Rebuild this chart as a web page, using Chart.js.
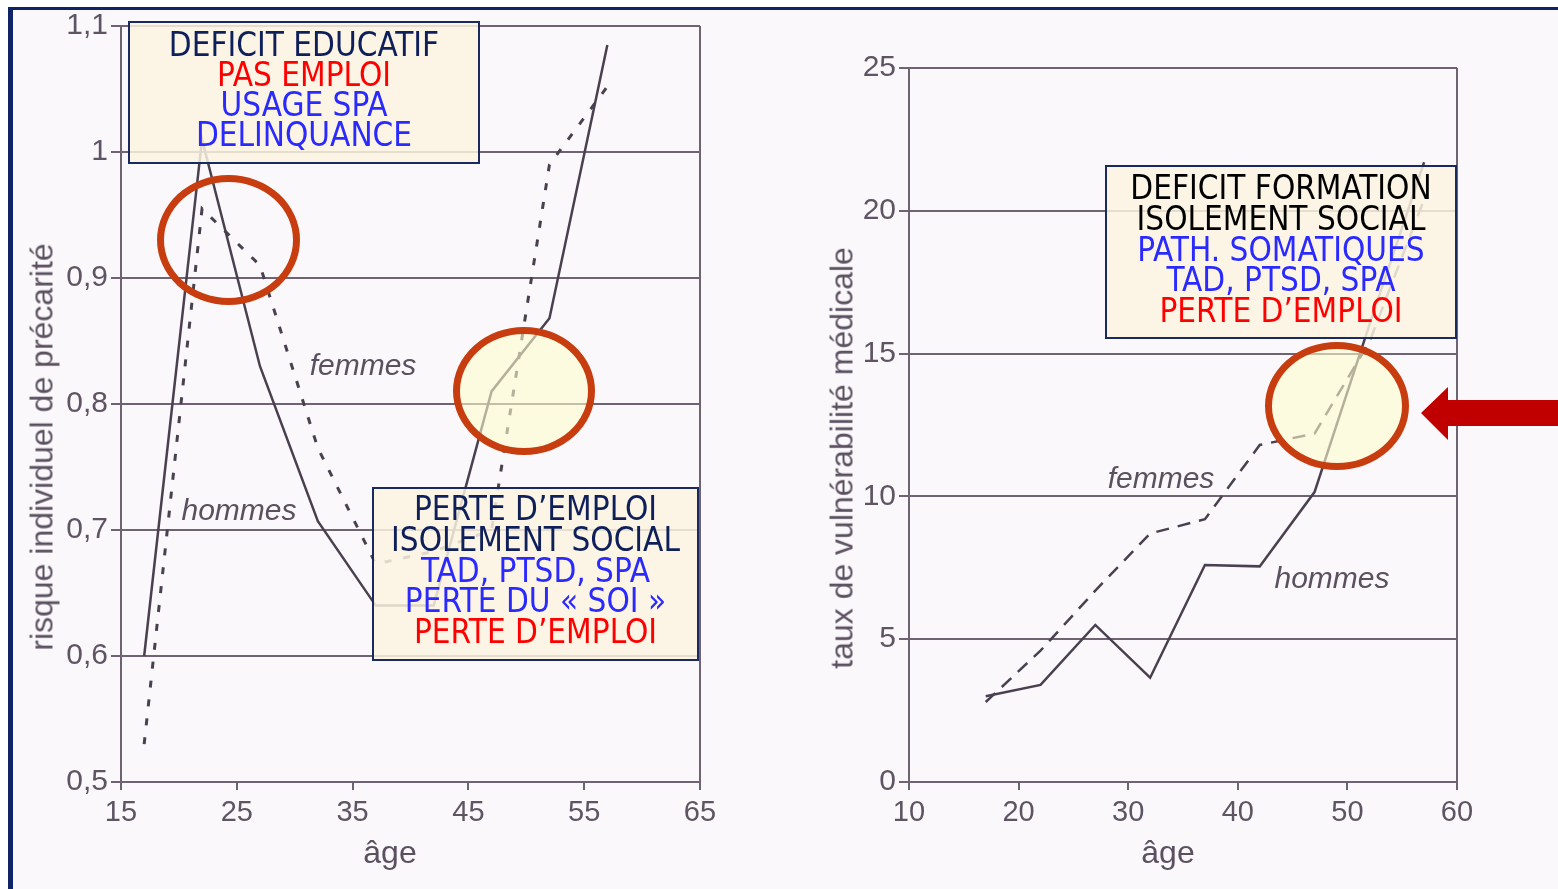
<!DOCTYPE html>
<html><head><meta charset="utf-8">
<script src="https://cdn.jsdelivr.net/npm/chart.js@4/dist/chart.umd.min.js"></script>
<style>
body{margin:0;width:1558px;height:889px;overflow:hidden;background:#fff;position:relative;font-family:"Liberation Sans",Arial,sans-serif}
#paper{position:absolute;left:8px;top:7px;width:1550px;height:882px;background:#fbf8fb;border-left:5px solid #0f2466;border-top:3px solid #0f2466;box-sizing:border-box}
canvas{position:absolute;top:0}
.box{position:absolute;box-sizing:border-box;border:2px solid #1b2a5e;background:rgba(252,244,224,0.84);font-family:"DejaVu Sans Condensed","DejaVu Sans",sans-serif;font-stretch:condensed;font-size:33px;text-align:center;white-space:nowrap}
.ring{position:absolute;box-sizing:border-box;border:7px solid #c73d0f;border-radius:50%}
.lbl{position:absolute;font-style:italic;color:#5a5060;font-size:30px;transform:translate(-50%,-50%);white-space:nowrap}
.tt{position:absolute;color:#5a5060;font-size:32px;white-space:nowrap;transform:translate(-50%,-50%)}
.rot{transform:translate(-50%,-50%) rotate(-90deg)}
.navy{color:#0e1f5a}.red{color:#ff0000}.blue{color:#2a2aff}.blk{color:#000}
</style></head>
<body>
<div id="paper"></div>
<canvas id="left" width="760" height="889" style="left:0"></canvas>
<canvas id="right" width="798" height="889" style="left:760px"></canvas>

<div class="tt rot" style="left:42px;top:447px">risque individuel de précarité</div>
<div class="tt" style="left:390px;top:852px">âge</div>
<div class="tt rot" style="left:842px;top:458px">taux de vulnérabilité médicale</div>
<div class="tt" style="left:1168px;top:852px">âge</div>

<div class="lbl" style="left:363px;top:365px">femmes</div>
<div class="lbl" style="left:239px;top:510px">hommes</div>
<div class="lbl" style="left:1161px;top:478px">femmes</div>
<div class="lbl" style="left:1332px;top:578px">hommes</div>

<div class="ring" style="left:157px;top:175px;width:143px;height:130px"></div>
<div class="ring" style="left:453px;top:327px;width:142px;height:128px;background:rgba(253,251,205,0.6)"></div>
<div class="ring" style="left:1265px;top:342px;width:144px;height:128px;background:rgba(253,251,205,0.6)"></div>

<div class="box" style="left:128px;top:21px;width:352px;height:143px;padding-top:7px;line-height:30px">
<div class="navy">DEFICIT EDUCATIF</div><div class="red">PAS EMPLOI</div><div class="blue">USAGE SPA</div><div class="blue">DELINQUANCE</div></div>
<div class="box" style="left:372px;top:487px;width:327px;height:174px;padding-top:5px;line-height:30.8px">
<div class="navy">PERTE D’EMPLOI</div><div class="navy">ISOLEMENT SOCIAL</div><div class="blue">TAD, PTSD, SPA</div><div class="blue">PERTE DU « SOI »</div><div class="red">PERTE D’EMPLOI</div></div>
<div class="box" style="left:1105px;top:165px;width:352px;height:174px;padding-top:6px;line-height:30.8px">
<div class="blk">DEFICIT FORMATION</div><div class="blk">ISOLEMENT SOCIAL</div><div class="blue">PATH. SOMATIQUES</div><div class="blue">TAD, PTSD, SPA</div><div class="red">PERTE D’EMPLOI</div></div>

<svg style="position:absolute;left:0;top:0" width="1558" height="889"><polygon points="1421,413 1448,387 1448,400 1558,400 1558,426 1448,426 1448,440" fill="#c00000"/></svg>

<script>
// ---- data ----
const agesLeft = [17, 22, 27, 32, 37, 42, 47, 52, 57];
const hommesLeft = [0.60, 1.01, 0.83, 0.707, 0.64, 0.64, 0.81, 0.868, 1.085];
const femmesLeft = [0.53, 0.955, 0.91, 0.765, 0.673, 0.683, 0.70, 0.99, 1.052];
const xTicksLeft = ['15', '25', '35', '45', '55', '65'];
const yTickValuesLeft = [0.5, 0.6, 0.7, 0.8, 0.9, 1.0, 1.1];
const yTicksLeft = ['0,5', '0,6', '0,7', '0,8', '0,9', '1', '1,1'];

const agesRight = [17, 22, 27, 32, 37, 42, 47, 52, 57];
const hommesRight = [3.0, 3.4, 5.5, 3.65, 7.6, 7.55, 10.15, 16.0, 21.7];
const femmesRight = [2.8, 4.6, 6.7, 8.7, 9.2, 11.8, 12.2, 15.4, 20.4];
const xTicksRight = ['10', '20', '30', '40', '50', '60'];
const yTickValuesRight = [0, 5, 10, 15, 20, 25];
const yTicksRight = ['0', '5', '10', '15', '20', '25'];

const LINE = '#4a4050', GRID = '#6f6272', TXT = '#5e5463';
Chart.defaults.font.family = '"Liberation Sans", Arial, sans-serif';

function makeChart(id, ages, h, f, o) {
  return new Chart(document.getElementById(id), {
    type: 'line',
    data: { datasets: [
      { label: 'hommes', data: ages.map((a, i) => ({ x: a, y: h[i] })), borderColor: LINE, borderWidth: 2.5, pointRadius: 0, tension: 0, fill: false },
      { label: 'femmes', data: ages.map((a, i) => ({ x: a, y: f[i] })), borderColor: LINE, borderWidth: o.dashWidth, borderDash: o.dash, pointRadius: 0, tension: 0, fill: false }
    ] },
    options: {
      responsive: false, animation: false, events: [],
      layout: { padding: { top: o.top, right: o.right, left: 0, bottom: 0 } },
      plugins: { legend: { display: false }, tooltip: { enabled: false } },
      scales: {
        x: { type: 'linear', min: o.xmin, max: o.xmax,
          ticks: { stepSize: 10, color: TXT, font: { size: 29 }, padding: 6, maxRotation: 0,
            callback: (v, i) => o.xlabels[i] },
          grid: { color: c => (c.tick && c.tick.value === o.xmax) ? GRID : 'rgba(0,0,0,0)', tickColor: GRID, tickLength: 8, lineWidth: 2 },
          border: { color: GRID, width: 2 },
          afterFit: s => { s.height = 889 - o.bottom; } },
        y: { type: 'linear', min: o.ymin, max: o.ymax,
          ticks: { stepSize: o.ystep, color: TXT, font: { size: 30 }, padding: 3,
            callback: v => { const k = o.yvals.findIndex(t => Math.abs(t - v) < 1e-6); return k >= 0 ? o.ylabels[k] : ''; } },
          grid: { color: GRID, lineWidth: 2, tickLength: 10, tickColor: GRID },
          border: { color: GRID, width: 2 },
          afterFit: s => { s.width = o.left; } }
      }
    }
  });
}

makeChart('left', agesLeft, hommesLeft, femmesLeft, {
  top: 26, bottom: 782, left: 121, right: 60, xmin: 15, xmax: 65, ymin: 0.5, ymax: 1.1, ystep: 0.1,
  xlabels: xTicksLeft, yvals: yTickValuesLeft, ylabels: yTicksLeft, dash: [7, 12], dashWidth: 3 });
makeChart('right', agesRight, hommesRight, femmesRight, {
  top: 68, bottom: 782, left: 149, right: 101, xmin: 10, xmax: 60, ymin: 0, ymax: 25, ystep: 5,
  xlabels: xTicksRight, yvals: yTickValuesRight, ylabels: yTicksRight, dash: [13, 9], dashWidth: 2.5 });
</script>
</body></html>
